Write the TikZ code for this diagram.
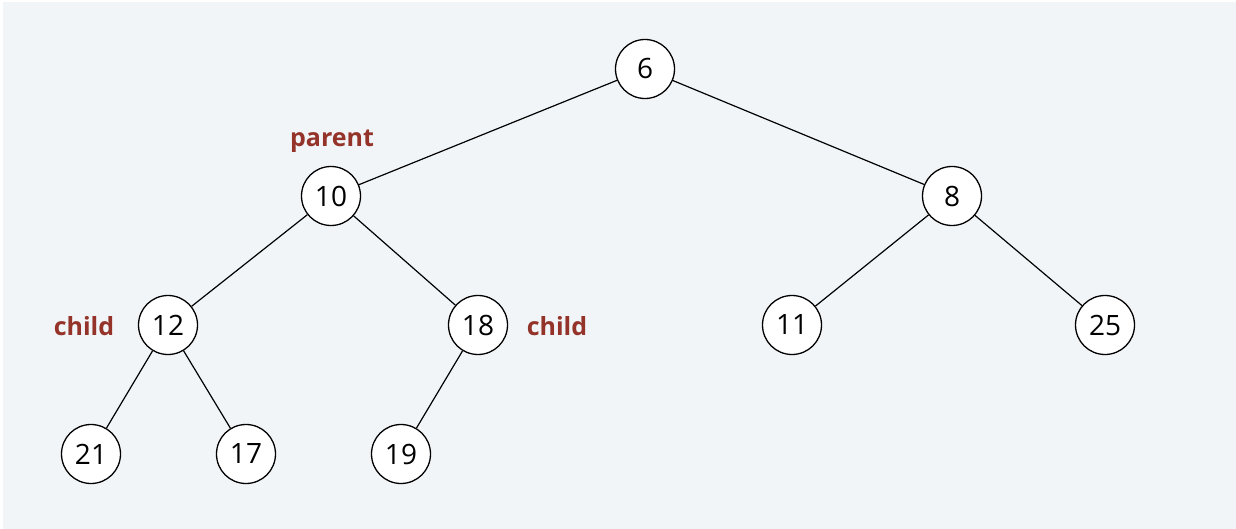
\documentclass[tikz,border=0pt]{standalone}
\usepackage{fontspec}
\setmainfont{Open Sans}
\definecolor{bg}{HTML}{F2F5F8}
\definecolor{lab}{HTML}{943329}
\begin{document}
\begin{tikzpicture}[x=1pt,y=-1pt,
  hnode/.style={circle,draw=black,fill=white,line width=1.3pt,minimum size=59pt,inner sep=0pt,font=\fontsize{28}{33}\selectfont},
  edge/.style={line width=1.2pt},
  lbl/.style={text=lab,font=\bfseries\fontsize{25}{30}\selectfont}]
\useasboundingbox (0,0) rectangle (1236,529);
\fill[bg] (3,2) rectangle (1236,529);
\node[hnode] (n6) at (645,69) {6};
\node[hnode] (n10) at (331,196) {10};
\node[hnode] (n8) at (952,196) {8};
\node[hnode] (n12) at (168,325) {12};
\node[hnode] (n18) at (478,325) {18};
\node[hnode] (n11) at (792,325) {11};
\node[hnode] (n25) at (1105,325) {25};
\node[hnode] (n21) at (91,454) {21};
\node[hnode] (n17) at (246,454) {17};
\node[hnode] (n19) at (401,454) {19};
\draw[edge] (n6) -- (n10);
\draw[edge] (n6) -- (n8);
\draw[edge] (n10) -- (n12);
\draw[edge] (n10) -- (n18);
\draw[edge] (n8) -- (n11);
\draw[edge] (n8) -- (n25);
\draw[edge] (n12) -- (n21);
\draw[edge] (n12) -- (n17);
\draw[edge] (n18) -- (n19);
\node[lbl] (lp) at (332,141) {parent};
\node[lbl] (lc1) at (84,326) {child};
\node[lbl] (lc2) at (557,326) {child};
\end{tikzpicture}
\end{document}
